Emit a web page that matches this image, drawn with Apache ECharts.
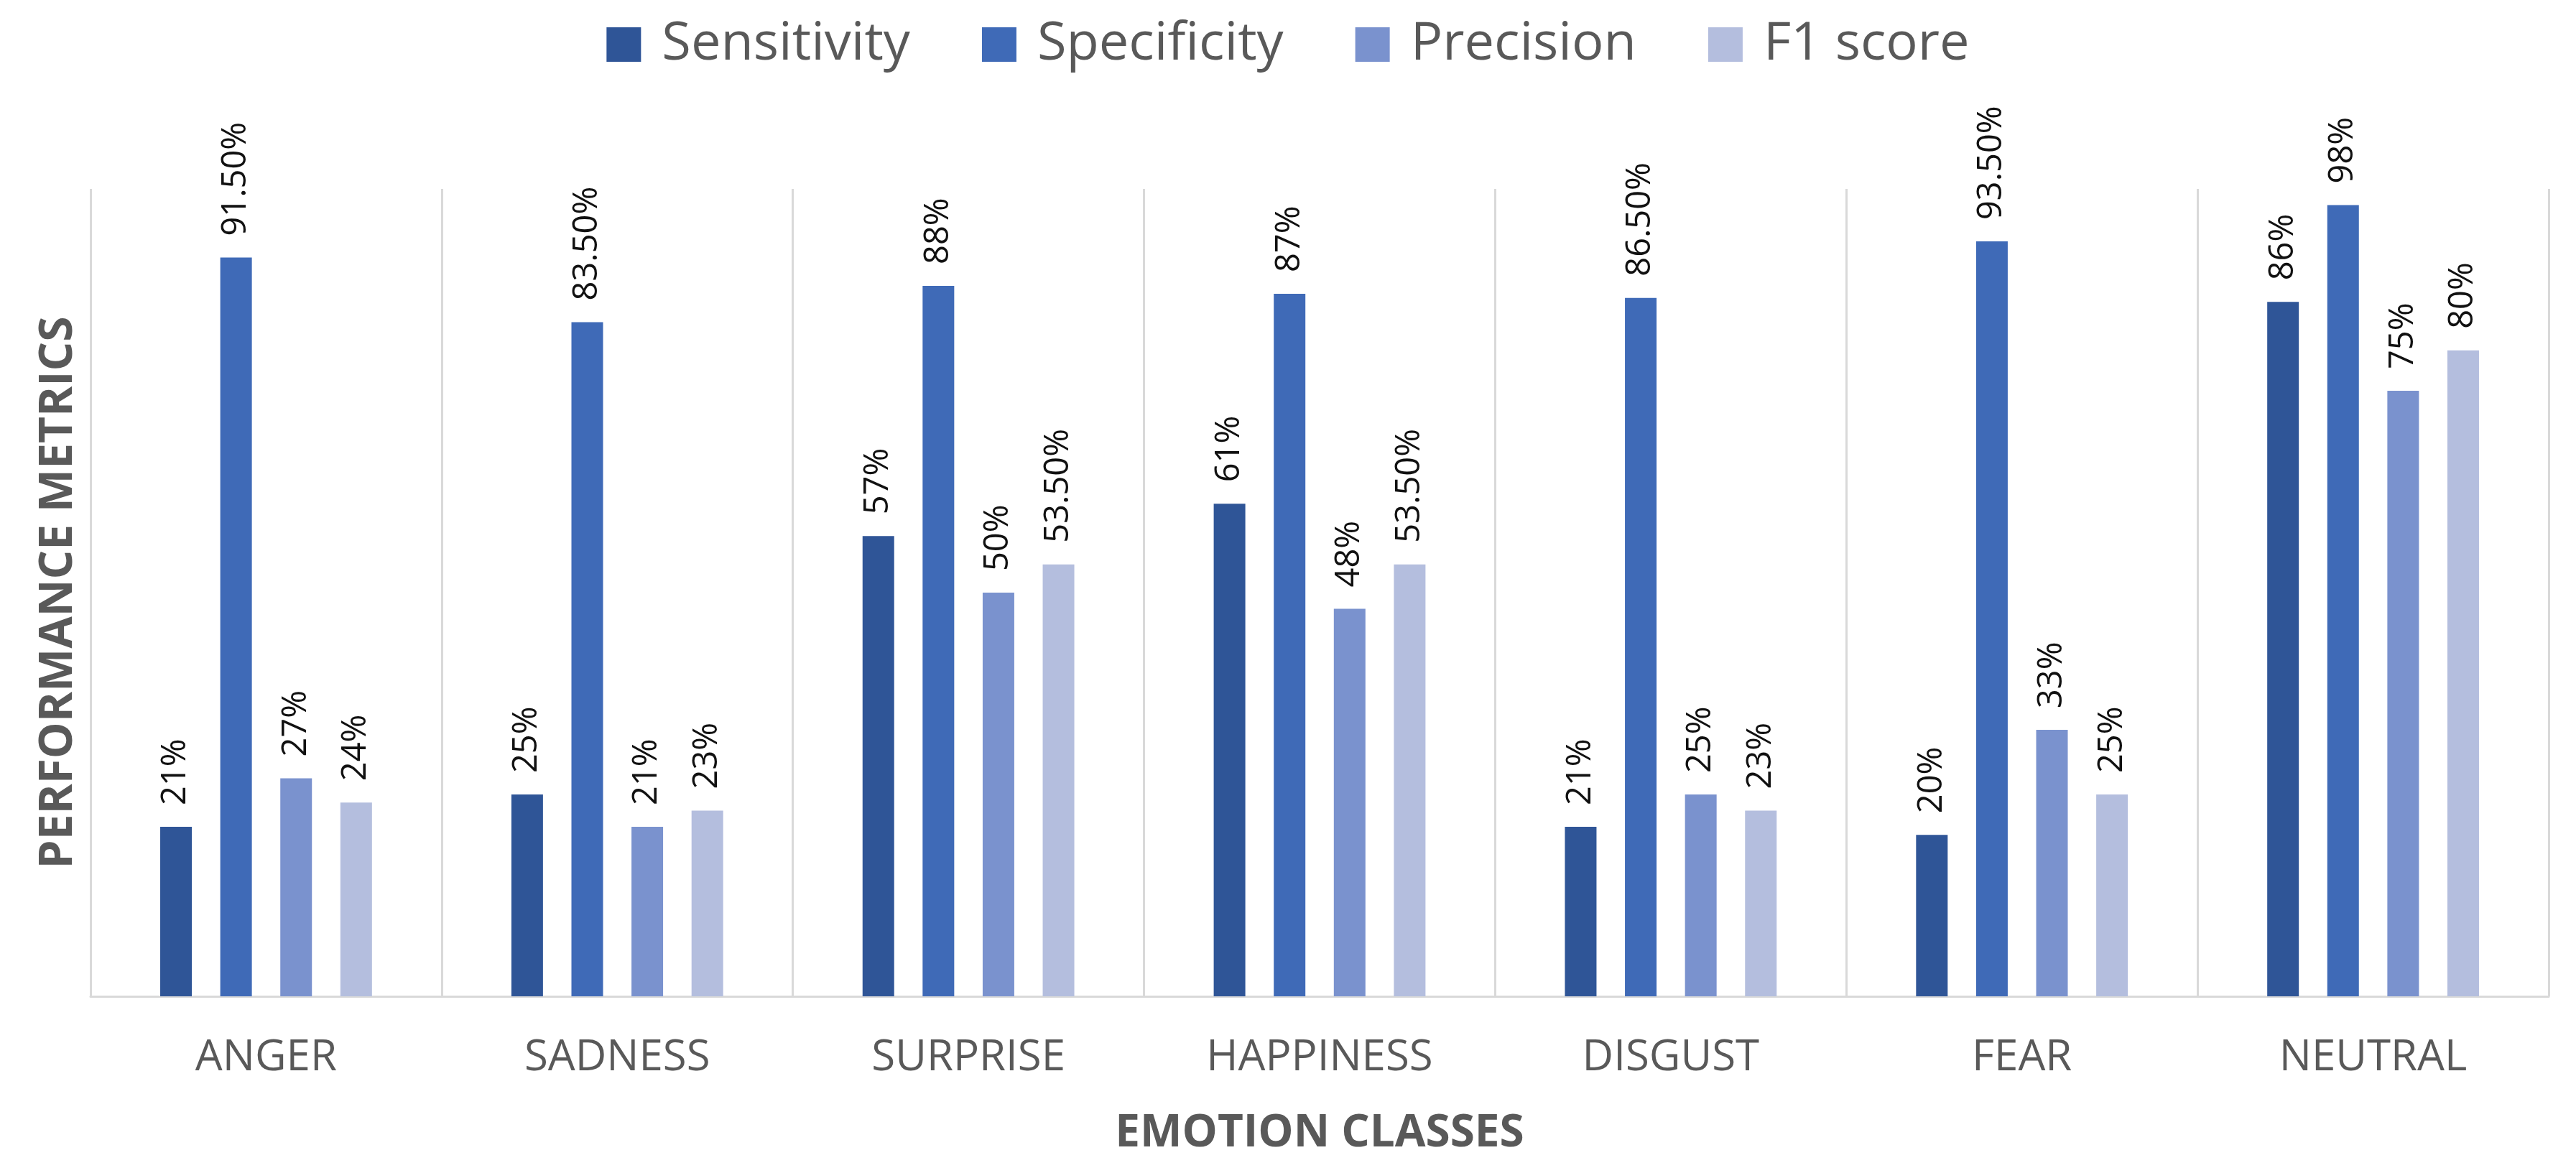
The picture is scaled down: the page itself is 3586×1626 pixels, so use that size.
<!DOCTYPE html>
<html>
<head>
<meta charset="utf-8">
<script src="https://cdn.jsdelivr.net/npm/echarts@6/dist/echarts.min.js"></script>
<style>
html,body{margin:0;padding:0;background:#fff;}
#chart{width:3586px;height:1626px;}
</style>
</head>
<body>
<div id="chart"></div>
<script>
const categories = ['ANGER','SADNESS','SURPRISE','HAPPINESS','DISGUST','FEAR','NEUTRAL'];
const seriesNames = ['Sensitivity','Specificity','Precision','F1 score'];
const sensitivity = [21, 25, 57, 61, 21, 20, 86];
const specificity = [91.5, 83.5, 88, 87, 86.5, 93.5, 98];
const precision   = [27, 21, 50, 48, 25, 33, 75];
const f1score     = [24, 23, 53.5, 53.5, 23, 25, 80];
const colors = ['#2F5597', '#3F6AB7', '#7A92CE', '#B4BEDE'];
const yTitle = 'PERFORMANCE METRICS';
const xTitle = 'EMOTION CLASSES';

const FONT = '"Open Sans", sans-serif';
const fmt = v => (Number.isInteger(v) ? v + '%' : v.toFixed(2) + '%');

const allData = [sensitivity, specificity, precision, f1score];
const series = allData.map((d, i) => ({
  name: seriesNames[i],
  type: 'bar',
  data: d,
  barWidth: 44,
  barGap: '90%',
  itemStyle: { color: colors[i] },
  label: {
    show: true,
    position: 'top',
    rotate: 90,
    align: 'left',
    verticalAlign: 'middle',
    distance: 30,
    fontFamily: FONT,
    fontSize: 47,
    color: '#111111',
    formatter: p => fmt(p.value)
  }
}));

const chart = echarts.init(document.getElementById('chart'));
chart.setOption({
  backgroundColor: '#ffffff',
  animation: false,
  color: colors,
  legend: {
    top: 20,
    left: 'center',
    itemWidth: 48,
    itemHeight: 48,
    itemGap: 100,
    icon: 'rect',
    textStyle: { fontFamily: FONT, fontSize: 74, color: '#595959', padding: [0, 0, 0, 24] },
    data: seriesNames
  },
  grid: { left: 126, right: 38, top: 263, bottom: 239, containLabel: false },
  xAxis: {
    type: 'category',
    data: categories,
    name: xTitle,
    nameLocation: 'middle',
    nameGap: 160,
    nameTextStyle: { fontFamily: FONT, fontSize: 62, fontWeight: 'bold', color: '#595959' },
    axisLine: { show: true, lineStyle: { color: '#D9D9D9', width: 3 } },
    axisTick: { show: false },
    axisLabel: { margin: 56, fontFamily: FONT, fontSize: 60, color: '#595959' },
    splitLine: { show: true, lineStyle: { color: '#D9D9D9', width: 3 } }
  },
  yAxis: {
    type: 'value',
    min: 0,
    max: 100,
    interval: 20,
    name: yTitle,
    nameLocation: 'middle',
    nameGap: 12,
    nameRotate: 90,
    nameTextStyle: { fontFamily: FONT, fontSize: 64, fontWeight: 'bold', color: '#595959' },
    axisLine: { show: false },
    axisTick: { show: false },
    axisLabel: { show: false },
    splitLine: { show: false }
  },
  series: series
});
</script>
</body>
</html>
